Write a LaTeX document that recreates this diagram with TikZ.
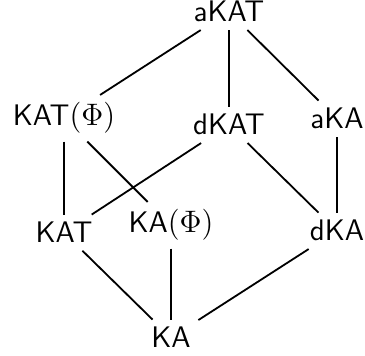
\documentclass[tikz,border=0pt]{standalone}
\begin{document}
\begin{tikzpicture}[x=0.3865pt,y=-0.3865pt,
  lat/.style={font=\fontsize{11.5}{14}\selectfont\sffamily, anchor=base, inner sep=2.8pt},
  edge/.style={line width=0.7pt}]
\useasboundingbox (0,0) rectangle (365,356);
\node[lat] (akat) at (229,22) {aKAT};
\node[lat] (katphi) at (64,126) {KAT$(\Phi)$};
\node[lat] (dkat) at (229,135) {dKAT};
\node[lat] (aka) at (337,129) {aKA};
\node[lat] (kat) at (64,243) {KAT};
\node[lat] (kaphi) at (171,233) {KA$(\Phi)$};
\node[lat] (dka) at (337,241) {dKA};
\node[lat] (ka) at (171,348) {KA};
\draw[edge] (akat) -- (katphi);
\draw[edge] (akat) -- (dkat);
\draw[edge] (akat) -- (aka);
\draw[edge] (katphi) -- (kat);
\draw[edge] (katphi) -- (kaphi);
\draw[edge] (dkat) -- (kat);
\draw[edge] (dkat) -- (dka);
\draw[edge] (aka) -- (dka);
\draw[edge] (kat) -- (ka);
\draw[edge] (kaphi) -- (ka);
\draw[edge] (dka) -- (ka);
\end{tikzpicture}
\end{document}
